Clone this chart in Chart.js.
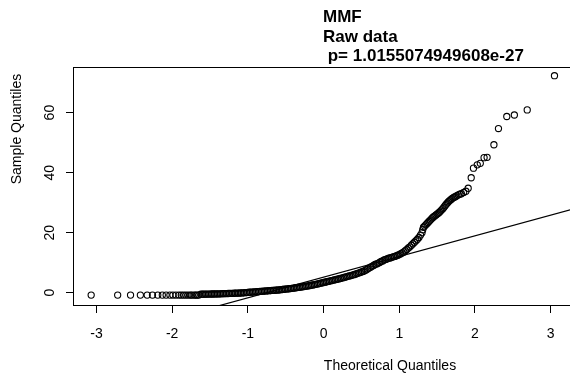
<!DOCTYPE html>
<html>
<head>
<meta charset="utf-8">
<title>MMF QQ plot</title>
<script src="https://cdn.jsdelivr.net/npm/chart.js@4.4.1/dist/chart.umd.min.js"></script>
<style>
  html, body { margin: 0; padding: 0; background: #fff; }
  #qq-chart { display: block; }
</style>
</head>
<body>
<canvas id="qq-chart" width="570" height="378"></canvas>
<script>
const title_lines = ["MMF", "Raw data", " p= 1.0155074949608e-27"];
const x_label = "Theoretical Quantiles";
const y_label = "Sample Quantiles";
const x_ticks = [-3, -2, -1, 0, 1, 2, 3];
const y_ticks = [0, 20, 40, 60];
const x_range = [-3.31, 3.255];
const y_range = [-4.1, 75.2];

// theoretical quantiles
const theoretical = [
    -3.07, -2.72, -2.55, -2.42, -2.33, -2.26, -2.19, -2.13, -2.08, -2.03,
    -1.99, -1.95, -1.91, -1.88, -1.85, -1.82, -1.79, -1.76, -1.74, -1.71,
    -1.69, -1.67, -1.65,
    -1.62, -1.60, -1.58, -1.56, -1.54, -1.52, -1.50, -1.48, -1.46, -1.44,
    -1.42, -1.40, -1.38, -1.36, -1.34, -1.32, -1.30, -1.28, -1.26, -1.24,
    -1.22, -1.20, -1.18, -1.16, -1.14, -1.12, -1.10, -1.08, -1.06, -1.04,
    -1.02, -1.00, -0.98, -0.96, -0.94, -0.92, -0.90, -0.88, -0.86, -0.84,
    -0.82, -0.80, -0.78, -0.76, -0.74, -0.72, -0.70, -0.68, -0.66, -0.64,
    -0.62, -0.60, -0.58, -0.56, -0.54, -0.52, -0.50, -0.48, -0.46, -0.44,
    -0.42, -0.40, -0.38, -0.36, -0.34, -0.32, -0.30, -0.28, -0.26, -0.24,
    -0.22, -0.20, -0.18, -0.16, -0.14, -0.12, -0.10, -0.08, -0.06, -0.04,
    -0.02, 0.00, 0.02, 0.04, 0.06, 0.08, 0.10, 0.12, 0.14, 0.16,
    0.18, 0.20, 0.22, 0.24, 0.26, 0.28, 0.30, 0.32, 0.34, 0.36,
    0.38, 0.40, 0.42, 0.44, 0.46, 0.48, 0.50, 0.52, 0.54, 0.56,
    0.58, 0.60, 0.62, 0.64, 0.66, 0.68, 0.70, 0.72, 0.74, 0.76,
    0.78, 0.80, 0.82, 0.84, 0.86, 0.88, 0.90, 0.92, 0.94, 0.96,
    0.98, 1.00,
    1.02, 1.04, 1.06, 1.08, 1.10, 1.12, 1.14, 1.16, 1.18, 1.20,
    1.22, 1.24, 1.26, 1.28, 1.30, 1.31, 1.32, 1.335, 1.35, 1.365,
    1.38, 1.395, 1.41, 1.425, 1.44, 1.455, 1.47, 1.485, 1.50, 1.515,
    1.53, 1.545, 1.56, 1.575, 1.59, 1.605, 1.62, 1.635, 1.65, 1.665,
    1.68, 1.695, 1.71, 1.725, 1.74, 1.76, 1.78, 1.80, 1.82, 1.85,
    1.88, 1.91,
    1.95, 1.98, 2.03, 2.07, 2.12, 2.16, 2.25, 2.31, 2.42, 2.52,
    2.69, 3.05
];

// sample quantiles
const sample = [
    -0.8, -0.8, -0.8, -0.8, -0.8, -0.8, -0.8, -0.8, -0.8, -0.8,
    -0.8, -0.8, -0.8, -0.8, -0.8, -0.8, -0.8, -0.8, -0.8, -0.8,
    -0.8, -0.8, -0.8,
    -0.5, -0.5, -0.5, -0.48, -0.47, -0.46, -0.45, -0.44, -0.43, -0.42,
    -0.41, -0.4, -0.38, -0.36, -0.34, -0.32, -0.3, -0.28, -0.26, -0.24,
    -0.22, -0.2, -0.18, -0.16, -0.14, -0.12, -0.1, -0.07, -0.03, 0.0,
    0.05, 0.1, 0.14, 0.18, 0.22, 0.26, 0.3, 0.34, 0.38, 0.42,
    0.46, 0.5, 0.54, 0.58, 0.62, 0.66, 0.7, 0.74, 0.78, 0.82,
    0.86, 0.9, 0.96, 1.02, 1.08, 1.14, 1.2, 1.26, 1.32, 1.38,
    1.44, 1.5, 1.58, 1.66, 1.74, 1.82, 1.9, 1.98, 2.06, 2.14,
    2.22, 2.3, 2.4, 2.5, 2.6, 2.7, 2.8, 2.92, 3.04, 3.16,
    3.28, 3.4, 3.52, 3.64, 3.76, 3.88, 4.0, 4.12, 4.24, 4.36,
    4.48, 4.6, 4.74, 4.88, 5.02, 5.16, 5.3, 5.44, 5.58, 5.72,
    5.86, 6.0, 6.18, 6.36, 6.54, 6.72, 6.9, 7.1, 7.3, 7.6,
    7.9, 8.2, 8.5, 8.8, 9.1, 9.4, 9.6, 9.8, 10.1, 10.4,
    10.6, 10.9, 11.1, 11.3, 11.5, 11.6, 11.8, 11.95, 12.1, 12.3,
    12.5, 12.7,
    13.0, 13.3, 13.6, 14.0, 14.4, 14.9, 15.3, 15.8, 16.3, 16.8,
    17.3, 17.8, 18.4, 19.2, 20.0, 21.0, 21.8, 22.2, 22.6, 23.0,
    23.4, 23.8, 24.2, 24.6, 25.0, 25.3, 25.6, 25.9, 26.2, 26.5,
    26.8, 27.2, 27.6, 28.0, 28.5, 29.0, 29.5, 29.9, 30.3, 30.7,
    31.0, 31.3, 31.6, 31.8, 32.0, 32.3, 32.6, 32.8, 33.0, 33.4,
    33.8, 34.8,
    38.3, 41.5, 42.6, 43.1, 45.0, 45.1, 49.3, 54.7, 58.7, 59.2,
    60.9, 72.3
];

// qqline end points
const line_x = [-1.5, 3.4];
const line_y = [-5.15, 28.6];

const font_family = '"Liberation Sans", Arial, sans-serif';

document.addEventListener("DOMContentLoaded", pageLoad);

function pageLoad(){
    createQQChart();
}

function toPoints(xs, ys){
    let points = [];
    for(let i = 0; i < xs.length; i++){
        points.push({ x: xs[i], y: ys[i] });
    }
    return points;
}

// R style extras: top box line, titles, rotated y tick labels
const rDecorations = {
    id: 'rDecorations',
    afterDraw(chart){
        const ctx = chart.ctx;
        const area = chart.chartArea;
        const yScale = chart.scales.y;
        ctx.save();
        ctx.strokeStyle = "#000";
        ctx.lineWidth = 1;
        ctx.beginPath();
        ctx.moveTo(area.left, Math.round(area.top) + 0.5);
        ctx.lineTo(area.right, Math.round(area.top) + 0.5);
        ctx.stroke();

        ctx.fillStyle = "#000";
        ctx.font = "bold 17px " + font_family;
        ctx.textAlign = "left";
        ctx.textBaseline = "alphabetic";
        title_lines.forEach(function(line, i){
            ctx.fillText(line, 323, 22 + i * 19.5);
        });

        ctx.font = "14px " + font_family;
        ctx.textAlign = "center";
        ctx.textBaseline = "middle";
        ctx.fillText(x_label, 390, 366);

        ctx.save();
        ctx.translate(17, 129);
        ctx.rotate(-Math.PI / 2);
        ctx.fillText(y_label, 0, 0);
        ctx.restore();

        y_ticks.forEach(function(v){
            ctx.save();
            ctx.translate(50, yScale.getPixelForValue(v));
            ctx.rotate(-Math.PI / 2);
            ctx.fillText(String(v), 0, 0);
            ctx.restore();
        });
        ctx.restore();
    }
};

function createQQChart(){
    const ctx = document.getElementById("qq-chart");
    const data = {
        datasets: [{
            label: "Sample",
            data: toPoints(theoretical, sample),
            showLine: false,
            pointStyle: "circle",
            pointRadius: 3.1,
            pointBorderWidth: 1.1,
            borderColor: "#000",
            backgroundColor: "rgba(0,0,0,0)"
        }, {
            type: "line",
            label: "qqline",
            data: toPoints(line_x, line_y),
            borderColor: "#000",
            borderWidth: 1.2,
            pointRadius: 0,
            fill: false
        }]
    };
    const config = {
        type: "scatter",
        data: data,
        plugins: [rDecorations],
        options: {
            responsive: false,
            animation: false,
            events: [],
            layout: {
                autoPadding: false,
                padding: { top: 67, left: 0, right: 0, bottom: 0 }
            },
            plugins: {
                legend: { display: false },
                tooltip: { enabled: false }
            },
            scales: {
                x: {
                    type: "linear",
                    min: x_range[0],
                    max: x_range[1],
                    afterBuildTicks: function(scale){
                        scale.ticks = x_ticks.map(function(v){ return { value: v }; });
                    },
                    afterFit: function(scale){
                        scale.height = 73;
                    },
                    border: { display: true, color: "#000", width: 1 },
                    grid: {
                        drawOnChartArea: false,
                        drawTicks: true,
                        tickLength: 8,
                        tickColor: "#000",
                        tickWidth: 1
                    },
                    ticks: {
                        color: "#000",
                        padding: 13,
                        maxRotation: 0,
                        font: { family: font_family, size: 14 }
                    }
                },
                y: {
                    type: "linear",
                    min: y_range[0],
                    max: y_range[1],
                    afterBuildTicks: function(scale){
                        scale.ticks = y_ticks.map(function(v){ return { value: v }; });
                    },
                    afterFit: function(scale){
                        scale.width = 73;
                    },
                    border: { display: true, color: "#000", width: 1 },
                    grid: {
                        drawOnChartArea: false,
                        drawTicks: true,
                        tickLength: 7,
                        tickColor: "#000",
                        tickWidth: 1
                    },
                    ticks: { display: false }
                }
            }
        }
    };

    return new Chart(ctx, config);
}
</script>
</body>
</html>
